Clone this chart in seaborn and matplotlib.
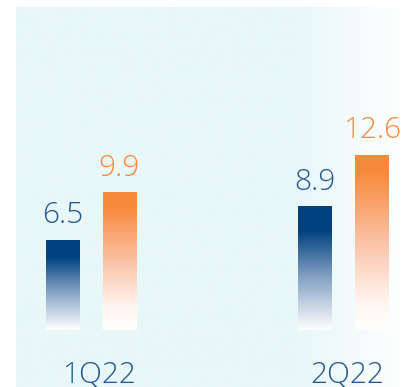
import numpy as np
import pandas as pd
import matplotlib
matplotlib.use("Agg")
import matplotlib.pyplot as plt
import seaborn as sns
from matplotlib.colors import LinearSegmentedColormap

quarters = ["1Q22", "2Q22"]
series = ["A", "B"]
values_a = [6.5, 8.9]
values_b = [9.9, 12.6]

df = pd.DataFrame({
    "quarter": quarters * 2,
    "series": ["A"] * 2 + ["B"] * 2,
    "value": values_a + values_b,
})

sns.set_theme(style="white")
plt.rcParams["font.family"] = ["Open Sans", "DejaVu Sans"]

fig = plt.figure(figsize=(4.07, 3.87), dpi=100)
ax = fig.add_axes([0, 0, 1, 1])

blue = "#00427F"
orange = "#F8893B"
label_blue = "#245894"

sns.barplot(data=df, x="quarter", y="value", hue="series", order=quarters,
            hue_order=series, palette=[blue, orange], width=0.452, gap=0.41,
            ax=ax, legend=False, saturation=1)

ax.set_xlim(-0.360, 1.251)
ax.set_ylim(-4.10, 23.74)

# background panel with fade to white at right
bg = LinearSegmentedColormap.from_list("bg", [(0, "#E8F7F8"), (0.72, "#E8F7F8"), (1.0, "#FFFFFF")])
grad = np.linspace(0, 1, 256).reshape(1, -1)
ax.imshow(grad, cmap=bg, aspect="auto", extent=(16 / 407, 1, 0, 1 - 7 / 387),
          transform=ax.transAxes, zorder=0)

cmap_blue = LinearSegmentedColormap.from_list(
    "b", [(0, "#FFFFFF"), (0.05, "#F2F4F8"), (0.45, "#7C9CBF"), (0.8, blue), (1, blue)])
cmap_orange = LinearSegmentedColormap.from_list(
    "o", [(0, "#FFFFFF"), (0.15, "#FFF6F2"), (0.5, "#FBC2A6"), (0.9, orange), (1, orange)])

vert = np.linspace(0, 1, 256).reshape(-1, 1)
for p in ax.patches:
    x0, y0 = p.get_x(), p.get_y()
    w, h = p.get_width(), p.get_height()
    fc = p.get_facecolor()
    is_blue = fc[2] > fc[0]
    cm = cmap_blue if is_blue else cmap_orange
    im = ax.imshow(vert, cmap=cm, aspect="auto", origin="lower",
                   extent=(x0, x0 + w, y0, y0 + h), zorder=2)
    im.set_clip_path(p)
    p.set_facecolor("none")
    p.set_edgecolor("none")
    ax.text(x0 + w / 2, h + 1.2, f"{h:.1f}", ha="center", va="baseline",
            fontsize=21.5, color=label_blue if is_blue else orange,
            fontweight=300, zorder=3)

label_offsets = [0.034, 0.014]
for i, q in enumerate(quarters):
    ax.text(i + label_offsets[i], -3.80, q, ha="center", va="baseline",
            fontsize=21.5, color=label_blue, fontweight=300, zorder=3)

ax.set_xticks([])
ax.set_yticks([])
ax.set_xlabel("")
ax.set_ylabel("")
for s in ax.spines.values():
    s.set_visible(False)

fig.savefig("out.png", dpi=100)
